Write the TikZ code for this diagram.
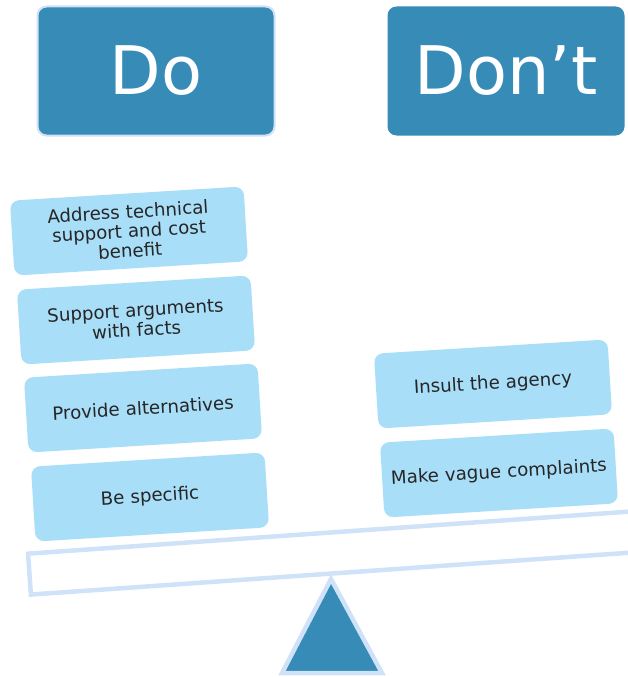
\documentclass[tikz,border=0pt]{standalone}
\usepackage{fontspec}
\setmainfont{DejaVu Sans}
\definecolor{titleblue}{HTML}{378BB7}
\definecolor{itemblue}{HTML}{A8DEF8}
\definecolor{paleblue}{HTML}{CFE2F7}
\definecolor{textgray}{HTML}{262626}

\begin{document}
\begin{tikzpicture}[x=1pt,y=-1pt]
        \tikzstyle{title}=[fill=titleblue,rounded corners=9pt,minimum width=237pt,minimum height=129pt,text=white,font=\fontsize{67}{70}\selectfont]
        \tikzstyle{item}=[fill=itemblue,rounded corners=9pt,minimum width=234pt,minimum height=75pt,text width=226pt,align=center,text=textgray,font=\fontsize{18.2}{19.5}\selectfont,rotate=3.5]
        \useasboundingbox (0,0) rectangle (628,677);
        \clip (0,0) rectangle (628,677);
        \node[title,draw=paleblue,line width=2pt] (do) at (156,71) {Do};
        \node[title] (dont) at (506,71) {Don’t};
        % the beam and its pivot
        \node[draw=paleblue,line width=4.5pt,minimum width=720pt,minimum height=41pt,rotate=4] (beam) at (388.6,549) {};
        \draw[fill=titleblue,draw=paleblue,line width=4.5pt] (331,579) -- (382,673) -- (282,673) -- cycle;
        % do
        \node[item] (facts1) at (129,231) {Address technical\\support and cost\\benefit};
        \node[item] (facts2) at (136,320) {Support arguments\\with facts};
        \node[item] (facts3) at (143,408) {Provide alternatives};
        \node[item] (facts4) at (150,497) {Be specific};
        % don't
        \node[item] (bad1) at (493,384) {Insult the agency};
        \node[item] (bad2) at (499,473) {Make vague complaints};
    \end{tikzpicture}
\end{document}
